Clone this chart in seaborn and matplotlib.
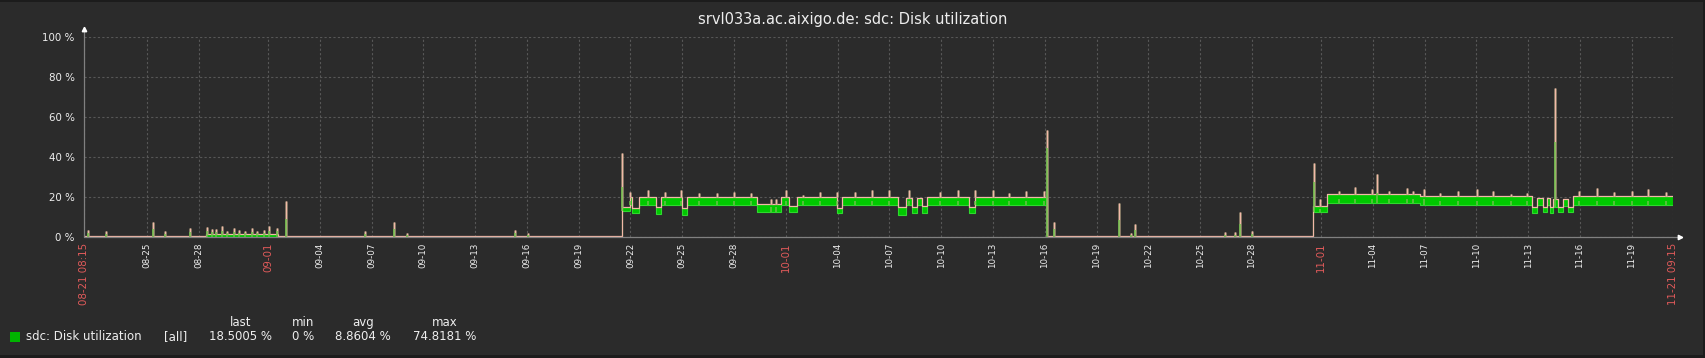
import numpy as np
import pandas as pd
import matplotlib
matplotlib.use("Agg")
import matplotlib.pyplot as plt
import seaborn as sns
from matplotlib.patches import Rectangle

# ---------------- data ----------------
title = "srvl033a.ac.aixigo.de: sdc: Disk utilization"
start_label = "08-21 08:15"
end_label = "11-21 09:15"
START = pd.Timestamp("2019-08-21 08:15")
END = pd.Timestamp("2019-11-21 09:15")

# band segments: start (days since START), lower edge (%), upper edge (%)
seg_start = [0.00, 7.07, 11.24, 31.19, 31.63, 31.77, 32.15, 33.12, 33.41, 34.66,
             34.95, 39.00, 40.35, 40.83, 41.32, 43.64, 43.93, 47.14, 47.59, 47.98,
             48.27, 48.56, 48.85, 51.25, 51.64, 55.79, 71.22, 72.00, 77.40, 83.87,
             84.18, 84.51, 84.76, 84.93, 85.12, 85.41, 85.70, 85.96, 86.28]
seg_lo = [0, 0, 0, 13, 16, 12, 16.0, 11.5, 16.0, 11,
          16.0, 12.5, 16.0, 12.5, 16.0, 12, 16.0, 11, 16, 12,
          16, 12, 16.0, 12, 16.0, 0, 12.5, 17.0, 16.3, 12,
          16, 12.5, 16, 12, 15, 12.5, 15.5, 12.5, 16.3]
seg_hi = [0.5, 1.5, 0.5, 15, 20, 14.5, 20.3, 15, 20.3, 14.5,
          20.3, 16.5, 20.3, 15.5, 20.3, 14.5, 20.3, 15, 19.5, 15,
          19.5, 15.5, 20.3, 15, 20.3, 0.5, 15.5, 21.5, 20.8, 15,
          19.5, 15, 19.5, 15, 19, 15, 19, 15, 20.8]

# spikes: day, max (%), avg (%)
spike_day = [0.255, 1.279, 3.983, 4.695, 6.159, 7.126, 7.398, 7.664, 7.977, 8.266,
             8.706, 8.996, 9.326, 9.714, 10.003, 10.408, 10.698, 11.161, 11.716, 16.272,
             17.951, 18.704, 24.973, 25.708,
             31.190, 31.630, 32.672, 33.638, 34.605, 35.624, 36.648, 37.650, 38.657, 39.774,
             40.064, 40.643, 41.644, 42.628, 43.636, 44.654, 45.661, 46.622, 47.780, 49.615,
             50.617, 51.642, 52.642, 53.610, 54.593, 55.635, 55.791,
             56.174, 59.936, 60.631, 60.863, 66.113, 66.651, 66.941, 67.659, 71.225,
             71.612, 72.671, 73.638, 74.604, 74.929, 75.607, 76.666, 76.978, 77.650, 78.559,
             79.618, 80.683, 81.644, 82.651, 83.612, 85.233, 86.622, 87.630, 88.648, 89.655,
             90.617, 91.624]
spike_max = [3.5, 3, 7.6, 3, 4.5, 5, 4, 4, 5.5, 3,
             4.5, 3.5, 3, 4.5, 3, 3.5, 5.5, 4.5, 18.1, 3,
             7.6, 2, 3.6, 2,
             42, 22.8, 23.6, 22.8, 23.6, 22, 22, 22.8, 22, 19,
             19, 23.6, 21, 22.8, 22.8, 22.8, 23.6, 23.9, 23.9, 22.8,
             23.6, 23.9, 23.9, 22, 23.3, 23, 53.6,
             7.8, 17, 2, 6.5, 2.5, 2.5, 12.8, 3.2, 37.3,
             19, 23, 25, 24, 31.6, 23, 24.5, 23, 24, 22,
             23, 24, 23, 21.5, 22.3, 74.8, 23, 24.5, 22.5, 23,
             24, 22.5]
spike_avg = [2, 1.5, 4, 1.5, 2.5, 3, 2.5, 2.5, 3, 2,
             2.5, 2, 2, 2.5, 2, 2, 3, 3, 9.1, 1.5,
             4, 1, 2, 1,
             25, 18, 18, 18, 18, 18, 18, 18, 18, 15,
             15, 18, 18, 18, 18, 18, 18, 18, 18, 18,
             18, 18, 18, 18, 18, 18, 44.5,
             4, 8.7, 1, 3.5, 1.2, 1.2, 6.5, 1.5, 27.8,
             14, 19, 19, 19, 22, 19, 19, 19, 19, 18,
             18, 18, 18, 18, 18, 47.8, 18, 18, 18, 18,
             18, 18]

tick_dates = ["08-25", "08-28", "09-01", "09-04", "09-07", "09-10", "09-13", "09-16",
              "09-19", "09-22", "09-25", "09-28", "10-01", "10-04", "10-07", "10-10",
              "10-13", "10-16", "10-19", "10-22", "10-25", "10-28", "11-01", "11-04",
              "11-07", "11-10", "11-13", "11-16", "11-19"]
y_ticks = [0, 20, 40, 60, 80, 100]

legend_name = "sdc: Disk utilization"
legend_func = "[all]"
legend_heads = ["last", "min", "avg", "max"]
legend_vals = ["18.5005 %", "0 %", "8.8604 %", "74.8181 %"]

# ---------------- styling ----------------
BG = "#2b2b2b"
GREEN = "#00c800"
PINK = "#f2b8a8"
TXT = "#eeeeee"
RED = "#e05a5a"
GRID = "#575757"

sns.set_theme(style="dark", rc={"axes.facecolor": BG, "figure.facecolor": BG})
plt.rcParams["font.family"] = ["DejaVu Sans"]

W, H = 1706, 358
fig = plt.figure(figsize=(W / 100, H / 100), dpi=100)
fig.patch.set_facecolor(BG)
x0px, x1px = 84.0, 1672.9
ytop, ybot = 37.3, 237.3
ax = fig.add_axes([x0px / W, (H - ybot) / H, (x1px - x0px) / W, (ybot - ytop) / H])
ax.set_facecolor(BG)

total = (END - START) / pd.Timedelta(days=1)

# step table
xs = np.array(seg_start + [total])
lo = np.array(seg_lo + [seg_lo[-1]])
hi = np.array(seg_hi + [seg_hi[-1]])
band = pd.DataFrame({"day": xs, "lo": lo, "hi": hi})

ax.fill_between(band["day"], band["lo"], band["hi"], step="post", color=GREEN, lw=0, zorder=3)
sns.lineplot(data=band, x="day", y="lo", drawstyle="steps-post", color="#2fd82f",
             lw=0.8, estimator=None, ax=ax, zorder=4)
sns.lineplot(data=band, x="day", y="hi", drawstyle="steps-post", color=PINK,
             lw=0.9, estimator=None, ax=ax, zorder=5)

sd = np.array(spike_day)
idx = np.searchsorted(np.array(seg_start), sd, side="right") - 1
base_lo = np.array(seg_lo)[idx]
base_hi = np.array(seg_hi)[idx]
ax.vlines(sd, base_hi, spike_max, color="#9a8d72", lw=1.8, zorder=5)
ax.vlines(sd, base_hi, spike_max, color=PINK, lw=0.8, zorder=6)
ax.vlines(sd, base_lo, np.maximum(spike_avg, base_lo), color="#6cc04a", lw=1.1, zorder=6)

ax.set_xlim(0, total)
ax.set_ylim(0, 100)

tick_pos = [0.0] + [(pd.Timestamp("2019-" + d) - START) / pd.Timedelta(days=1) for d in tick_dates] + [total]
tick_lab = [start_label] + tick_dates + [end_label]
ax.set_xticks(tick_pos, labels=tick_lab, rotation=90)
ax.set_yticks(y_ticks, labels=[f"{v} %" for v in y_ticks])
ax.tick_params(axis="x", length=0, pad=4.0, labelsize=6.3, labelcolor=TXT)
ax.tick_params(axis="y", length=0, pad=6.8, labelsize=7.4, labelcolor=TXT)
for lab in ax.get_xticklabels():
    t = lab.get_text()
    if t in (start_label, end_label) or t.endswith("-01"):
        lab.set_color(RED)
        lab.set_fontsize(7.4)

ax.grid(True, color=GRID, linestyle=(0, (2, 2)), lw=0.8)
for s in ax.spines.values():
    s.set_visible(False)

# axis lines with arrow heads
ax.plot([0, 0], [0, 1.035], transform=ax.transAxes, color="#808080", lw=0.9, clip_on=False, zorder=7)
ax.plot([0, 1.004], [0, 0], transform=ax.transAxes, color="#808080", lw=0.9, clip_on=False, zorder=7)
ax.plot([0], [1.04], marker="^", ms=3.2, color="white", transform=ax.transAxes, clip_on=False, zorder=8)
ax.plot([1.0045], [0], marker=">", ms=3.2, color="white", transform=ax.transAxes, clip_on=False, zorder=8)
ax.set_xlabel("")
ax.set_ylabel("")

# title
fig.text(0.5, 1 - 19.6 / H, title, ha="center", va="center", color=TXT, fontsize=10.5)

# legend
fig.add_artist(Rectangle((10 / W, 1 - 341.7 / H), 9.5 / W, 10 / H, transform=fig.transFigure,
                         color="#00b400", lw=0))
fig.text(25.7 / W, 1 - 336.7 / H, legend_name, ha="left", va="center", color=TXT, fontsize=8.5)
fig.text(164.3 / W, 1 - 336.7 / H, legend_func, ha="left", va="center", color=TXT, fontsize=8.5)
col_x = [240.3, 303.3, 363.0, 444.3]
for cx, hd, vl in zip(col_x, legend_heads, legend_vals):
    fig.text(cx / W, 1 - 322.7 / H, hd, ha="center", va="center", color=TXT, fontsize=8.5)
    fig.text(cx / W, 1 - 336.7 / H, vl, ha="center", va="center", color=TXT, fontsize=8.5)

# dark frame on top / right / bottom
for rx, ry, rw, rh in [(0, H - 1.5, W, 1.5), (W - 3.3, 0, 3.3, H), (0, 0, W, 3.0)]:
    fig.add_artist(Rectangle((rx / W, ry / H), rw / W, rh / H, transform=fig.transFigure,
                             color="#1c1c1c", lw=0))

fig.savefig("out.png", dpi=100, facecolor=BG)
